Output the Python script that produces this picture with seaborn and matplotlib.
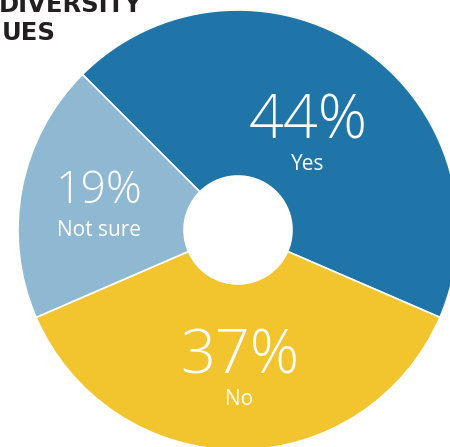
import matplotlib
matplotlib.use("Agg")
import matplotlib.pyplot as plt
import seaborn as sns

# Survey answers
categories = ["Yes", "No", "Not sure"]
shares = [44, 37, 19]
colors = ["#1F75A8", "#F2C42D", "#8FB8D3"]
pct_sizes = [44, 44, 32]
title_lines = ["DIVERSITY", "UES"]

sns.set_theme(style="white")
plt.rcParams["font.family"] = ["Open Sans", "DejaVu Sans"]

fig = plt.figure(figsize=(4.5, 4.47), dpi=100)
W, H = 450, 447
cx, cy, R, hole = 238, 230, 220, 54
ax = fig.add_axes([(cx - R) / W, (H - cy - R) / H, 2 * R / W, 2 * R / H])

ax.pie(shares, colors=colors, startangle=135, counterclock=False,
       radius=1, wedgeprops=dict(width=1 - hole / R, edgecolor="white", linewidth=1.2))
ax.set_xlim(-1, 1)
ax.set_ylim(-1, 1)
ax.set_aspect("equal")
ax.axis("off")

# label placement (value, caption) baselines in axis units
pos = {
    "Yes": (0.318, 0.418, 0.273),
    "No": (0.007, -0.650, -0.795),
    "Not sure": (-0.632, 0.123, -0.027),
}
for cat, val, size in zip(categories, shares, pct_sizes):
    x, yv, yc = pos[cat]
    ax.text(x, yv, f"{val}%", ha="center", va="baseline", color="white",
            fontsize=size, fontweight="light")
    ax.text(x, yc, cat, ha="center", va="baseline", color="white",
            fontsize=15, fontweight="normal")

fig.text(-0.002, 1 - 12 / H, title_lines[0], ha="left", va="baseline",
         fontsize=17.5, fontweight="bold", color="#231F20",
         family=["DejaVu Sans"])
fig.text(0.004, 1 - 40 / H, title_lines[1], ha="left", va="baseline",
         fontsize=17.5, fontweight="bold", color="#231F20",
         family=["DejaVu Sans"])

fig.savefig("out.png", dpi=100)
